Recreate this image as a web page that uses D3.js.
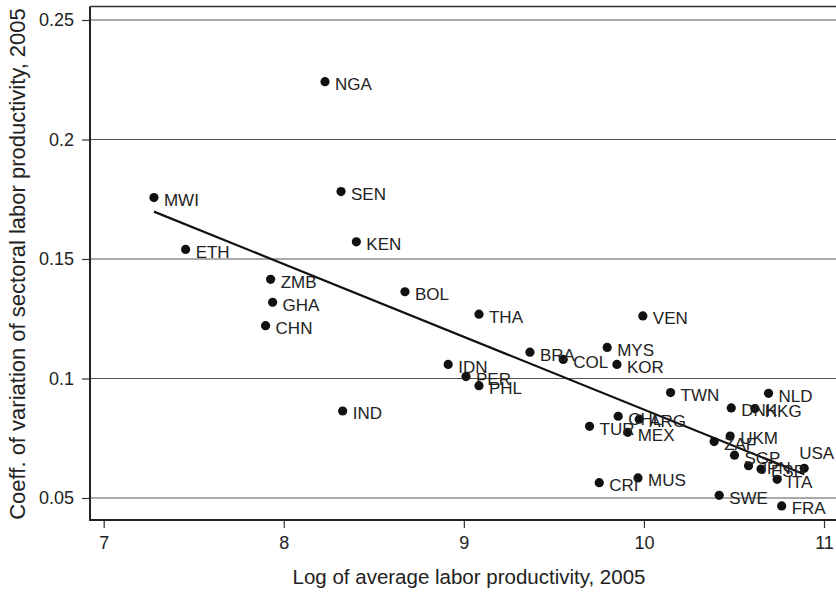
<!DOCTYPE html>
<html>
<head>
<meta charset="utf-8">
<script src="https://cdn.jsdelivr.net/npm/d3@7"></script>
<style>
  body { margin: 0; background: #fff; }
  svg { display: block; font-family: "Liberation Sans", Arial, sans-serif; }
</style>
</head>
<body>
<div id="chart-area"></div>
<script>
// country codes and values
const countries = ["NGA", "MWI", "SEN", "ETH", "KEN", "ZMB", "GHA", "CHN", "BOL", "THA",
  "IDN", "PER", "PHL", "IND", "BRA", "COL", "MYS", "KOR", "VEN", "TWN",
  "CHL", "ARG", "TUR", "MEX", "CRI", "MUS", "DNK", "HKG", "NLD", "ZAF",
  "UKM", "SGP", "JPN", "ESP", "USA", "ITA", "SWE", "FRA"];
const logProd = [8.229, 7.279, 8.318, 7.455, 8.403, 7.927, 7.938, 7.899, 8.673, 9.084,
  8.913, 9.012, 9.084, 8.327, 9.367, 9.552, 9.796, 9.850, 9.994, 10.148,
  9.857, 9.974, 9.698, 9.910, 9.752, 9.967, 10.485, 10.616, 10.692, 10.390,
  10.479, 10.503, 10.581, 10.650, 10.890, 10.740, 10.418, 10.765];
const coeffVar = [0.2242, 0.1757, 0.1782, 0.1540, 0.1572, 0.1415, 0.1319, 0.1221, 0.1363, 0.1269,
  0.1059, 0.1008, 0.0970, 0.0864, 0.1110, 0.1080, 0.1130, 0.1059, 0.1262, 0.0941,
  0.0842, 0.0830, 0.0800, 0.0775, 0.0564, 0.0584, 0.0877, 0.0874, 0.0938, 0.0736,
  0.0759, 0.0679, 0.0635, 0.0621, 0.0624, 0.0578, 0.0511, 0.0467];
const xTicks = [7, 8, 9, 10, 11];
const yTicks = [0.05, 0.1, 0.15, 0.2, 0.25];

const W = 836, H = 592;
const frame = { left: 90, top: 6.5, bottom: 520, right: 836 };

// label placement: right of the dot, except USA which sits above-left
const labelPos = { USA: [-5, -9] };

const data = countries.map((c, i) => ({ code: c, x: logProd[i], y: coeffVar[i] }));

const svg = d3.select("#chart-area")
  .append("svg")
  .attr("width", W)
  .attr("height", H);

const x = d3.scaleLinear()
  .domain([7, 11])
  .range([103.7, 824]);

const y = d3.scaleLinear()
  .domain([0.05, 0.25])
  .range([498, 20]);

// gridlines
svg.append("g")
  .selectAll("line")
  .data(yTicks)
  .join("line")
  .attr("x1", frame.left)
  .attr("x2", frame.right)
  .attr("y1", d => y(d))
  .attr("y2", d => y(d))
  .attr("stroke", "#555")
  .attr("stroke-width", 1);

// axes
const xAxisCall = d3.axisBottom(x)
  .tickValues(xTicks)
  .tickFormat(d3.format("d"))
  .tickSize(8)
  .tickPadding(8.5);

const yAxisCall = d3.axisLeft(y)
  .tickValues(yTicks)
  .tickFormat(d => String(d))
  .tickSize(8)
  .tickPadding(8);

const xAxisGroup = svg.append("g")
  .attr("transform", `translate(0, ${frame.bottom})`)
  .call(xAxisCall);

const yAxisGroup = svg.append("g")
  .attr("transform", `translate(${frame.left}, 0)`)
  .call(yAxisCall);

[xAxisGroup, yAxisGroup].forEach(g => {
  g.select(".domain").remove();
  g.selectAll(".tick line").attr("stroke", "#333").attr("stroke-width", 1.2);
  g.selectAll(".tick text")
    .attr("font-size", "18px")
    .attr("fill", "#222")
    .attr("font-family", "Liberation Sans, Arial, sans-serif");
});

// frame: left, bottom, top
svg.append("line")
  .attr("x1", frame.left).attr("x2", frame.left)
  .attr("y1", frame.top).attr("y2", frame.bottom + 1)
  .attr("stroke", "#222").attr("stroke-width", 2);
svg.append("line")
  .attr("x1", frame.left - 1).attr("x2", frame.right)
  .attr("y1", frame.bottom).attr("y2", frame.bottom)
  .attr("stroke", "#222").attr("stroke-width", 2);
svg.append("line")
  .attr("x1", frame.left).attr("x2", frame.right)
  .attr("y1", frame.top).attr("y2", frame.top)
  .attr("stroke", "#333").attr("stroke-width", 1.5);

// OLS fit line over the data range
const mx = d3.mean(data, d => d.x);
const my = d3.mean(data, d => d.y);
const slope = d3.sum(data, d => (d.x - mx) * (d.y - my)) / d3.sum(data, d => (d.x - mx) ** 2);
const icpt = my - slope * mx;
const [xmin, xmax] = d3.extent(data, d => d.x);

svg.append("line")
  .attr("x1", x(xmin))
  .attr("x2", x(xmax))
  .attr("y1", y(icpt + slope * xmin))
  .attr("y2", y(icpt + slope * xmax))
  .attr("stroke", "#111")
  .attr("stroke-width", 2.2);

// points
svg.append("g")
  .selectAll("circle")
  .data(data)
  .join("circle")
  .attr("cx", d => x(d.x))
  .attr("cy", d => y(d.y))
  .attr("r", 4.6)
  .attr("fill", "#111");

// labels
svg.append("g")
  .selectAll("text")
  .data(data)
  .join("text")
  .attr("x", d => x(d.x) + (labelPos[d.code] ? labelPos[d.code][0] : 10))
  .attr("y", d => y(d.y) + (labelPos[d.code] ? labelPos[d.code][1] : 8.3))
  .attr("font-size", "17px")
  .attr("fill", "#222")
  .text(d => d.code);

// axis titles
svg.append("text")
  .attr("x", 469)
  .attr("y", 584)
  .attr("text-anchor", "middle")
  .attr("font-size", "20.5px")
  .attr("fill", "#222")
  .text("Log of average labor productivity, 2005");

svg.append("text")
  .attr("transform", "rotate(-90)")
  .attr("x", -264)
  .attr("y", 25)
  .attr("text-anchor", "middle")
  .attr("font-size", "22px")
  .attr("fill", "#222")
  .text("Coeff. of variation of sectoral labor productivity, 2005");
</script>
</body>
</html>
